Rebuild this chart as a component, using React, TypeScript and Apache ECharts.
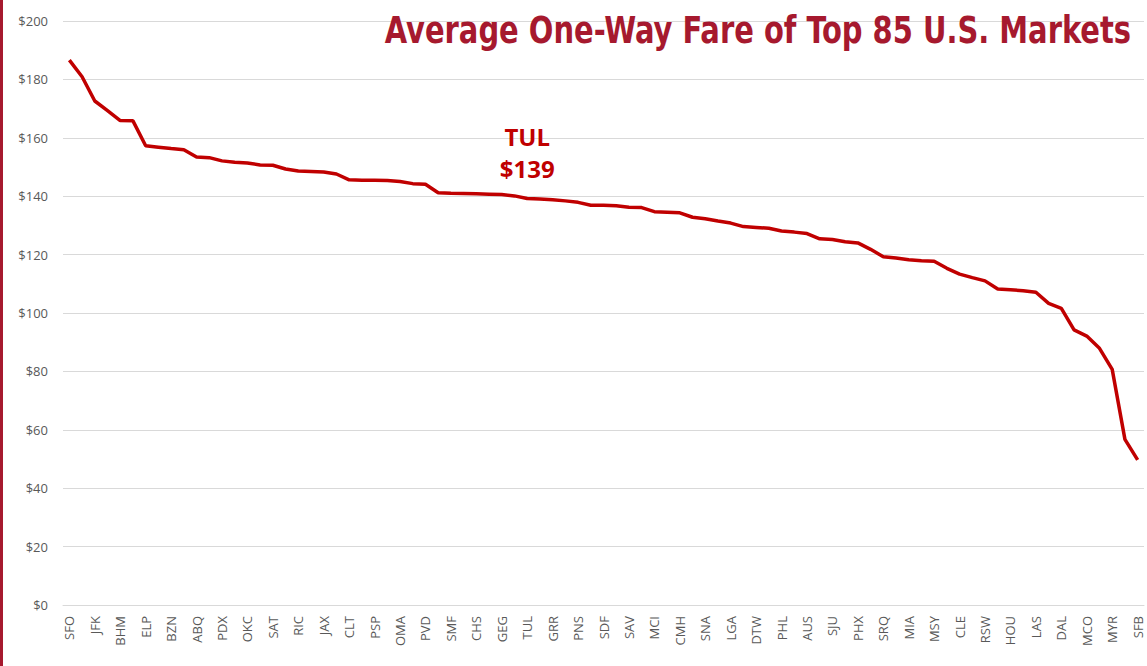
import React, { useEffect, useRef } from "react";
import * as echarts from "echarts";

const TITLE = "Average One-Way Fare of Top 85 U.S. Markets";

// Every other market label is shown in the source; the hidden ones are unreadable.
const shownMarkets = [
  "SFO", "JFK", "BHM", "ELP", "BZN", "ABQ", "PDX", "OKC", "SAT", "RIC", "JAX",
  "CLT", "PSP", "OMA", "PVD", "SMF", "CHS", "GEG", "TUL", "GRR", "PNS", "SDF",
  "SAV", "MCI", "CMH", "SNA", "LGA", "DTW", "PHL", "AUS", "SJU", "PHX", "SRQ",
  "MIA", "MSY", "CLE", "RSW", "HOU", "LAS", "DAL", "MCO", "MYR", "SFB",
];

const markets: string[] = [];
shownMarkets.forEach((m, i) => {
  markets.push(m);
  if (i < shownMarkets.length - 1) markets.push("");
});

const fares = [
  186.6, 180.9, 172.6, 169.3, 165.9, 165.8, 157.3, 156.8, 156.3, 155.9,
  153.4, 153.2, 152.1, 151.6, 151.4, 150.7, 150.6, 149.3, 148.6, 148.5,
  148.3, 147.6, 145.6, 145.5, 145.5, 145.4, 145.0, 144.3, 144.1, 141.2,
  141.0, 140.9, 140.8, 140.7, 140.6, 140.1, 139.2, 139.0, 138.8, 138.4,
  137.9, 136.9, 136.9, 136.7, 136.2, 136.1, 134.7, 134.5, 134.3, 132.8,
  132.3, 131.5, 130.8, 129.6, 129.3, 129.0, 128.1, 127.7, 127.2, 125.4,
  125.2, 124.4, 124.0, 121.8, 119.3, 118.8, 118.2, 117.9, 117.7, 115.3,
  113.3, 112.1, 111.0, 108.2, 108.0, 107.6, 107.1, 103.3, 101.6, 94.2,
  92.1, 87.9, 80.7, 56.7, 49.7,
];

const highlightMarket = "TUL";
const highlightLabel = "$139";

export default function App() {
  const ref = useRef<HTMLDivElement>(null);

  useEffect(() => {
    if (!ref.current) return;
    const chart = echarts.init(ref.current, undefined, { renderer: "svg" });
    const hiIdx = markets.indexOf(highlightMarket);

    chart.setOption({
      animation: false,
      backgroundColor: "#ffffff",
      graphic: [
        {
          type: "rect",
          left: 0,
          top: 0,
          shape: { width: 3, height: 666 },
          style: { fill: "#a6192e" },
        },
        {
          type: "text",
          x: 1131,
          y: 12,
          scaleX: 0.87,
          z: 10,
          style: {
            text: TITLE,
            fill: "#a6192e",
            font: "bold 37px 'DejaVu Sans Condensed', Roboto, sans-serif",
            textAlign: "right",
            textVerticalAlign: "top",
          },
        },
      ],
      grid: { left: 63, right: 3, top: 21, bottom: 61, containLabel: false },
      xAxis: {
        type: "category",
        data: markets,
        boundaryGap: true,
        axisLine: { show: true, lineStyle: { color: "#d9d9d9", width: 1 } },
        axisTick: { show: false },
        axisLabel: {
          interval: 1,
          rotate: 90,
          margin: 11,
          color: "#595959",
          fontFamily: "Open Sans",
          fontSize: 13,
        },
      },
      yAxis: {
        type: "value",
        min: 0,
        max: 200,
        interval: 20,
        axisLine: { show: false },
        axisTick: { show: false },
        splitLine: { lineStyle: { color: "#d9d9d9", width: 1 } },
        axisLabel: {
          formatter: "${value}",
          margin: 15,
          color: "#595959",
          fontFamily: "Open Sans",
          fontSize: 13,
        },
      },
      series: [
        {
          type: "line",
          data: fares,
          showSymbol: false,
          symbol: "none",
          lineStyle: { color: "#c00000", width: 3.5 },
          itemStyle: { color: "#c00000" },
          markPoint: {
            symbol: "circle",
            symbolSize: 1,
            itemStyle: { color: "rgba(0,0,0,0)" },
            data: [
              {
                coord: [hiIdx, fares[hiIdx]],
                label: {
                  show: true,
                  position: "top",
                  distance: 14,
                  formatter: `${highlightMarket}\n${highlightLabel}`,
                  color: "#c00000",
                  fontFamily: "Open Sans",
                  fontWeight: "bold",
                  fontSize: 24,
                  lineHeight: 32,
                  align: "center",
                },
              },
            ],
          },
        },
      ],
    });
    return () => chart.dispose();
  }, []);

  return (
    <div
      ref={ref}
      style={{ position: "absolute", left: 0, top: 0, width: 1147, height: 666 }}
    />
  );
}
